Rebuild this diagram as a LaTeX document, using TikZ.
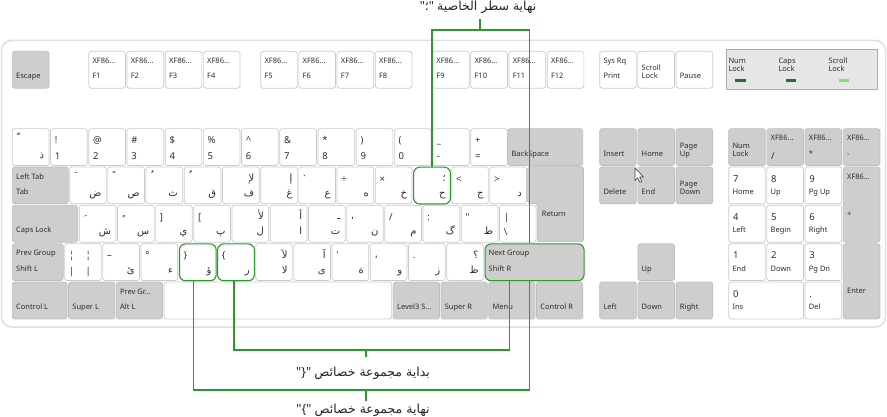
\documentclass[tikz,border=0pt]{standalone}
\usepackage{fontspec}
\setmainfont{Noto Sans}[Ligatures=TeXOff]
\newfontfamily\arabicfont[Script=Arabic]{DejaVu Sans}
\TeXXeTstate=1
\definecolor{keyline}{RGB}{202,202,202}
\definecolor{keygray}{RGB}{206,206,206}
\definecolor{gkeyline}{RGB}{190,190,190}
\definecolor{labelcol}{RGB}{45,45,45}
\definecolor{callgreen}{RGB}{40,155,40}
\definecolor{frameline}{RGB}{224,224,224}
\definecolor{indfill}{RGB}{230,230,230}
\definecolor{indline}{RGB}{172,172,172}
\definecolor{ledoff}{RGB}{50,105,50}
\definecolor{ledon}{RGB}{110,235,110}

\begin{document}
\begin{tikzpicture}[x=1pt, y=-1pt,
  key/.style={draw=keyline, fill=white, rounded corners=2.5pt, line width=0.7pt,
    anchor=north west, inner sep=0pt, minimum width=36.7pt, minimum height=36.85pt},
  gkey/.style={key, draw=gkeyline, fill=keygray},
  wide/.style={minimum width=#1*38.2pt-1.5pt},
  tall/.style={minimum height=75.2pt},
  hl/.style={draw=callgreen, line width=1.1pt, rounded corners=6pt},
  namefont/.style={font=\fontsize{7.5}{9}\selectfont, text=labelcol, inner sep=0pt},
  symfont/.style={font=\fontsize{9.5}{11}\selectfont, text=labelcol, inner sep=0pt},
  arfont/.style={font=\arabicfont\fontsize{10}{12}\selectfont, text=labelcol, inner sep=0pt},
  nt/.style={label={[namefont, anchor=base west, xshift=4pt, yshift=-12.5pt]north west:{#1}}},
  n1/.style={label={[namefont, anchor=base west, xshift=4pt, yshift=-20pt]north west:{#1}}},
  nb/.style={label={[namefont, anchor=base west, xshift=4pt, yshift=-28pt]north west:{#1}}},
  nm/.style={label={[namefont, anchor=base west, xshift=4pt, yshift=-50pt]north west:{#1}}},
  st/.style={label={[symfont, anchor=base west, xshift=4.5pt, yshift=-15.5pt]north west:{#1}}},
  sb/.style={label={[symfont, anchor=base west, xshift=4.5pt, yshift=-31pt]north west:{#1}}},
  art/.style={label={[arfont, anchor=base east, xshift=-5pt, yshift=-15pt]north east:{\beginR#1\endR}}},
  arb/.style={label={[arfont, anchor=base east, xshift=-5pt, yshift=-30pt]north east:{\beginR#1\endR}}},
  arl/.style={label={[arfont, anchor=base west, xshift=4.5pt, yshift=-15pt]north west:{\beginR#1\endR}}},
  mku/.style={label={[arfont, anchor=base west, xshift=5pt, yshift=-13pt]north west:{\beginR#1\endR}}},
  mkd/.style={label={[arfont, anchor=base west, xshift=5pt, yshift=-10pt]north west:{\beginR#1\endR}}},
  led/.style={minimum width=10.5pt, minimum height=2.6pt, inner sep=0pt},
  callout/.style={draw=callgreen, line width=1.1pt},
  notefont/.style={font=\fontsize{12.5}{14}\selectfont, text=black!85, inner sep=0pt, anchor=base}]

  \fill[white] (0,0) rectangle (887,417);
  \useasboundingbox (0,0) rectangle (887,417);

  % keyboard frame
  \draw[draw=frameline, line width=1.5pt, rounded corners=10pt] (1.5,40.5) rectangle (885.5,327);

  % function row
  \node[gkey, nb=Escape] (kEsc) at (12,51) {};
  \foreach \f/\x in {1/88.4, 2/126.6, 3/164.8, 4/203, 5/260.3, 6/298.5,
                     7/336.7, 8/374.9, 9/432.2, 10/470.4, 11/508.6, 12/546.8} {
    \node[key, nt=XF86..., nb=F\f] (kF\f) at (\x,51) {};
  }
  \node[key, nt=Sys Rq, nb=Print] (kPrint) at (599.3,51) {};
  \node[key, n1=Scroll, nb=Lock] (kScroll) at (637.5,51) {};
  \node[key, nb=Pause] (kPause) at (675.7,51) {};

  % indicators
  \node[draw=indline, fill=indfill, line width=1.1pt, anchor=north west, inner sep=0pt,
        minimum width=151pt, minimum height=40pt] (kLeds) at (725.7,49) {};
  \foreach \n/\x/\lx/\c in {Num/728.3/740.7/ledoff, Caps/778.3/790.9/ledoff, Scroll/828.3/843.8/ledon} {
    \node[namefont, anchor=base west] (t\n) at (\x,63.3) {\n};
    \node[namefont, anchor=base west] (t\n L) at (\x,71.7) {Lock};
    \node[led, fill=\c] (led\n) at (\lx,80.3) {};
  }

  % number row
  \node[key, mku=ﹼ, arb=ذ] (kTlde) at (12,128.3) {};
  \foreach \i/\up/\dn in {1/!/1, 2/@/2, 3/\#/3, 4/\$/4, 5/\%/5, 6/\textasciicircum/6,
                          7/\&/7, 8/*/8, 9/)/9, 10/(/0, 11/\_/-, 12/+/=} {
    \node[key, st=\up, sb=\dn] (kE\i) at (12+\i*38.2,128.3) {};
  }
  \node[gkey, wide=2, nb=BackSpace] (kBksp) at (507.4,128.3) {};

  % top letter row
  \node[gkey, wide=1.5, nt=Left Tab, nb=Tab] (kTab) at (12,166.65) {};
  \node[key, mku=ﹶ, arb=ض] (kD01) at (69.3,166.65) {};
  \node[key, mku=ﹰ, arb=ص] (kD02) at (107.5,166.65) {};
  \node[key, mku=ﹸ, arb=ث] (kD03) at (145.7,166.65) {};
  \node[key, mku=ﹲ, arb=ق] (kD04) at (183.9,166.65) {};
  \node[key, art=لإ, arb=ف] (kD05) at (222.1,166.65) {};
  \node[key, art=إ, arb=غ] (kD06) at (260.3,166.65) {};
  \node[key, st=`, arb=ع] (kD07) at (298.5,166.65) {};
  \node[key, st=÷, arb=ه] (kD08) at (336.7,166.65) {};
  \node[key, st=×, arb=خ] (kD09) at (374.9,166.65) {};
  \node[key, hl, art=؛, arb=ح] (kH) at (413.1,166.65) {};
  \node[key, st=<, arb=ج] (kD11) at (451.3,166.65) {};
  \node[key, st=>, arb=د] (kD12) at (489.5,166.65) {};
  \draw[draw=gkeyline, fill=keygray, rounded corners=2.5pt, line width=0.7pt]
    (527.7,166.65) -- (583.5,166.65) -- (583.5,241.85) -- (537.25,241.85)
    -- (537.25,203.5) -- (527.7,203.5) -- cycle;
  \node[namefont, anchor=base west] (kRet) at (541.7,217) {Return};

  % home row
  \node[gkey, wide=1.75, nb=Caps Lock] (kCaps) at (12,205) {};
  \node[key, mkd=ﹺ, arb=ش] (kC01) at (78.85,205) {};
  \node[key, mkd=ﹴ, arb=س] (kC02) at (117.05,205) {};
  \node[key, st={]}, arb=ي] (kC03) at (155.25,205) {};
  \node[key, st={[}, arb=پ] (kC04) at (193.45,205) {};
  \node[key, art=لأ, arb=ل] (kC05) at (231.65,205) {};
  \node[key, art=أ, arb=ا] (kC06) at (269.85,205) {};
  \node[key, art=ـ, arb=ت] (kC07) at (308.05,205) {};
  \node[key, arl=،, arb=ن] (kC08) at (346.25,205) {};
  \node[key, st=/, arb=م] (kC09) at (384.45,205) {};
  \node[key, st=:, arb=گ] (kC10) at (422.65,205) {};
  \node[key, st=", arb=ط] (kC11) at (460.85,205) {};
  \node[key, st=|, sb=\textbackslash] (kBksl) at (499.05,205) {};

  % bottom letter row
  \node[gkey, minimum width=50.8pt, nt=Prev Group, nb=Shift L] (kLfsh) at (12,243.35) {};
  \node[key, st=¦, sb=|,
        label={[symfont, anchor=base west, xshift=21pt, yshift=-15.5pt]north west:¦},
        label={[symfont, anchor=base west, xshift=21pt, yshift=-31pt]north west:|}] (kLsgt) at (64.3,243.35) {};
  \node[key, st=–, arb=ئ] (kB01) at (102.5,243.35) {};
  \node[key, st=°, arb=ء] (kB02) at (140.7,243.35) {};
  \node[key, hl, st=\}, arb=ؤ] (kRB) at (178.9,243.35) {};
  \node[key, hl, st=\{, arb=ر] (kLB) at (217.1,243.35) {};
  \node[key, art=لآ, arb=لا] (kB05) at (255.3,243.35) {};
  \node[key, art=آ, arb=ى] (kB06) at (293.5,243.35) {};
  \node[key, st=', arb=ة] (kB07) at (331.7,243.35) {};
  \node[key, arl=،, arb=و] (kB08) at (369.9,243.35) {};
  \node[key, st=., arb=ز] (kB09) at (408.1,243.35) {};
  \node[key, art=؟, arb=ظ] (kB10) at (446.3,243.35) {};
  \node[gkey, hl, minimum width=99pt, nt=Next Group, nb=Shift R] (kShR) at (484.5,243.35) {};

  % space row
  \node[gkey, minimum width=54.7pt, nb=Control L] (kLctl) at (12,281.7) {};
  \node[gkey, wide=1.25, nb=Super L] (kLwin) at (68.2,281.7) {};
  \node[gkey, wide=1.25, nt=Prev Gr..., nb=Alt L] (kLalt) at (115.95,281.7) {};
  \node[key, wide=6] (kSpace) at (163.7,281.7) {};
  \node[gkey, wide=1.25, nb=Level3 S...] (kRalt) at (392.9,281.7) {};
  \node[gkey, wide=1.25, nb=Super R] (kRwin) at (440.65,281.7) {};
  \node[gkey, wide=1.25, nb=Menu] (kMenu) at (488.4,281.7) {};
  \node[gkey, wide=1.25, nb=Control R] (kRctl) at (536.15,281.7) {};

  % editing keys and arrows
  \node[gkey, nb=Insert] (kIns) at (599.3,128.3) {};
  \node[gkey, nb=Home] (kHome) at (637.5,128.3) {};
  \node[gkey, n1=Page, nb=Up] (kPgUp) at (675.7,128.3) {};
  \node[gkey, nb=Delete] (kDel) at (599.3,166.65) {};
  \node[gkey, nb=End] (kEnd) at (637.5,166.65) {};
  \node[gkey, n1=Page, nb=Down] (kPgDn) at (675.7,166.65) {};
  \node[gkey, nb=Up] (kUp) at (637.5,243.35) {};
  \node[gkey, nb=Left] (kLeft) at (599.3,281.7) {};
  \node[gkey, nb=Down] (kDown) at (637.5,281.7) {};
  \node[gkey, nb=Right] (kRight) at (675.7,281.7) {};

  % keypad
  \node[gkey, n1=Num, nb=Lock] (kNmlk) at (728.3,128.3) {};
  \node[gkey, nt=XF86..., sb=/] (kKpDiv) at (766.5,128.3) {};
  \node[gkey, nt=XF86..., nb=*] (kKpMul) at (804.7,128.3) {};
  \node[gkey, nt=XF86..., nb=-] (kKpSub) at (842.9,128.3) {};
  \foreach \d/\n/\x/\y in {7/Home/728.3/166.65, 8/Up/766.5/166.65, 9/Pg Up/804.7/166.65,
                           4/Left/728.3/205, 5/Begin/766.5/205, 6/Right/804.7/205,
                           1/End/728.3/243.35, 2/Down/766.5/243.35, 3/Pg Dn/804.7/243.35} {
    \node[key, st=\d, nb=\n] (kKp\d) at (\x,\y) {};
  }
  \node[gkey, tall, nt=XF86..., nm=+] (kKpAdd) at (842.9,166.65) {};
  \node[gkey, tall, nm=Enter] (kKpEnt) at (842.9,243.35) {};
  \node[key, wide=2, st=0, nb=Ins] (kKp0) at (728.3,281.7) {};
  \node[key, st=., nb=Del] (kKpDl) at (804.7,281.7) {};

  % callout texts
  \node[notefont] (lblEnd) at (478,11) {"{\arabicfont ؛}" {\arabicfont\beginR نهاية سطر الخاصية\endR}};
  \node[notefont] (lblStart) at (363,376) {"\}" {\arabicfont\beginR بداية مجموعة خصائص\endR}};
  \node[notefont] (lblGrp) at (363,413) {"\{" {\arabicfont\beginR نهاية مجموعة خصائص\endR}};

  % callout lines
  \coordinate (topbar) at (480,30);
  \coordinate (topstub) at (480,19);
  \coordinate (midbar) at (366,350);
  \coordinate (midstub) at (366,357);
  \coordinate (botbar) at (366,390);
  \coordinate (botstub) at (366,401);
  \draw[callout] (kH.north) |- (topbar) -| ([xshift=-5pt]kShR.north);
  \draw[callout] (topbar) -- (topstub);
  \draw[callout] ([xshift=-2pt]kLB.south) |- (midbar) -| ([xshift=-25pt]kShR.south);
  \draw[callout] (midbar) -- (midstub);
  \draw[callout] ([xshift=-4pt]kRB.south) |- (botbar) -| ([xshift=-5pt]kShR.south);
  \draw[callout] (botbar) -- (botstub);

  % mouse pointer
  \draw[fill=white, draw=black!75, line width=0.6pt, line join=round]
    (635,168) -- (635,180.5) -- (637.8,177.8) -- (640,182.3) -- (641.8,181.5)
    -- (639.7,177) -- (643.5,177) -- cycle;
\end{tikzpicture}
\end{document}
